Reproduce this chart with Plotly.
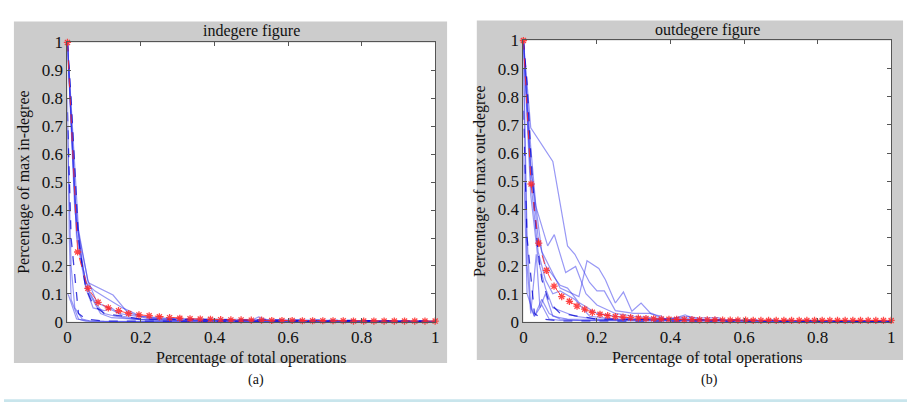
import plotly.graph_objects as go

# ---------------- data ----------------
x_ticks = [0, 0.2, 0.4, 0.6, 0.8, 1]
y_ticks = [0, 0.1, 0.2, 0.3, 0.4, 0.5, 0.6, 0.7, 0.8, 0.9, 1]

# in-degree mean curve (red stars)
in_mean_x = [i / 36 for i in range(37)]
in_mean_y = [1, 0.25, 0.12, 0.07, 0.05, 0.04, 0.03, 0.025, 0.022, 0.018, 0.015, 0.013,
             0.011, 0.01, 0.009, 0.008, 0.007, 0.007, 0.006, 0.006, 0.005, 0.005, 0.005,
             0.004, 0.004, 0.004, 0.004, 0.004, 0.003, 0.003, 0.003, 0.003, 0.003, 0.003,
             0.003, 0.003, 0.003]

# in-degree individual runs (blue)
in_runs_x = [
    [0, 0.025, 0.05, 0.075, 0.1, 0.15, 0.2, 0.3, 0.5, 0.52, 0.55, 0.7, 1],
    [0, 0.025, 0.057, 0.124, 0.164, 0.2, 0.25, 1],
    [0, 0.005, 0.01, 0.03, 0.05, 1],
    [0, 0.003, 0.025, 0.06, 0.1, 1],
    [0, 0.02, 0.05, 0.08, 0.1, 0.13, 0.18, 0.25, 1],
    [0, 0.025, 0.05, 0.07, 0.1, 0.12, 0.15, 0.2, 0.3, 1],
    [0, 0.02, 0.04, 0.06, 0.09, 0.12, 0.2, 0.4, 1],
    [0, 0.03, 0.055, 0.08, 0.11, 0.14, 0.19, 0.22, 0.3, 1],
    [0, 0.01, 0.02, 0.04, 0.06, 0.1, 0.2, 1],
]
in_runs_y = [
    [1, 0.32, 0.14, 0.11, 0.09, 0.05, 0.02, 0.01, 0.005, 0.018, 0.005, 0.003, 0.001],
    [1, 0.35, 0.14, 0.096, 0.033, 0.02, 0.012, 0.002],
    [0.8, 0.3, 0.08, 0.01, 0.002, 0.0],
    [0.1, 0.095, 0.01, 0.003, 0.002, 0.0],
    [1, 0.4, 0.13, 0.06, 0.03, 0.02, 0.01, 0.005, 0.001],
    [1, 0.3, 0.12, 0.05, 0.04, 0.05, 0.02, 0.01, 0.005, 0.002],
    [1, 0.45, 0.2, 0.1, 0.03, 0.015, 0.008, 0.004, 0.001],
    [1, 0.33, 0.15, 0.07, 0.05, 0.03, 0.02, 0.012, 0.006, 0.002],
    [0.7, 0.2, 0.05, 0.01, 0.004, 0.002, 0.001, 0.0],
]
in_dash_x = [
    [0, 0.01, 0.02, 0.03, 0.04, 0.05, 0.07, 0.1, 0.2, 1],
    [0, 0.01, 0.03, 0.05, 0.1, 0.3, 1],
]
in_dash_y = [
    [1, 0.8, 0.55, 0.3, 0.2, 0.12, 0.06, 0.03, 0.01, 0.003],
    [0.75, 0.3, 0.03, 0.01, 0.003, 0.002, 0.002],
]

# out-degree mean curve (red stars)
out_mean_x = [i / 48 for i in range(49)]
out_mean_y = [1, 0.49, 0.28, 0.183, 0.127, 0.09, 0.073, 0.056, 0.045, 0.034, 0.027, 0.022,
              0.019, 0.017, 0.015, 0.013, 0.012, 0.011, 0.01, 0.009, 0.009, 0.008, 0.008,
              0.007, 0.007, 0.007, 0.006, 0.006, 0.006, 0.006, 0.005, 0.005, 0.005, 0.005,
              0.005, 0.005, 0.005, 0.005, 0.005, 0.005, 0.005, 0.005, 0.005, 0.005, 0.005,
              0.005, 0.005, 0.005, 0.005]

# out-degree individual runs (blue)
out_runs_x = [
    [0, 0.02, 0.08, 0.12, 0.14, 0.18, 0.2, 0.22, 0.25, 0.3, 0.35, 0.38, 0.45, 0.5, 1],
    [0, 0.02, 0.034, 0.066, 0.084, 0.115, 0.142, 0.17, 0.2, 0.25, 0.3, 0.4, 0.6, 1],
    [0, 0.02, 0.05, 0.1, 0.151, 0.173, 0.205, 0.223, 0.25, 0.272, 0.295, 0.32, 0.348,
     0.375, 0.39, 0.44, 0.47, 1],
    [0, 0.01, 0.02, 0.035, 0.045, 0.06, 0.08, 0.12, 1],
    [0, 0.01, 0.02, 0.03, 0.05, 0.07, 0.1, 1],
    [0, 0.02, 0.04, 0.06, 0.1, 0.12, 0.15, 0.2, 0.3, 0.53, 0.55, 1],
    [0, 0.02, 0.04, 0.06, 0.08, 0.1, 0.14, 0.18, 0.25, 1],
    [0, 0.01, 0.03, 0.05, 0.07, 0.1, 0.15, 1],
    [0, 0.02, 0.04, 0.06, 0.08, 0.1, 0.14, 0.2, 1],
]
out_runs_y = [
    [1, 0.69, 0.57, 0.27, 0.24, 0.14, 0.11, 0.11, 0.04, 0.03, 0.03, 0.01, 0.02, 0.005, 0.003],
    [1, 0.62, 0.41, 0.27, 0.31, 0.175, 0.197, 0.1, 0.06, 0.03, 0.02, 0.01, 0.005, 0.002],
    [1, 0.55, 0.25, 0.12, 0.09, 0.217, 0.19, 0.15, 0.067, 0.106, 0.038, 0.067, 0.027,
     0.021, 0.005, 0.025, 0.005, 0.002],
    [0.9, 0.2, 0.03, 0.24, 0.05, 0.1, 0.02, 0.01, 0.0],
    [1, 0.3, 0.05, 0.02, 0.06, 0.01, 0.005, 0.0],
    [1, 0.55, 0.3, 0.2, 0.13, 0.12, 0.07, 0.03, 0.01, 0.015, 0.003, 0.002],
    [1, 0.5, 0.25, 0.15, 0.1, 0.11, 0.08, 0.02, 0.01, 0.0],
    [0.6, 0.1, 0.02, 0.08, 0.03, 0.01, 0.005, 0.0],
    [1, 0.45, 0.22, 0.12, 0.05, 0.04, 0.02, 0.01, 0.001],
]
out_dash_x = [
    [0, 0.01, 0.02, 0.03, 0.04, 0.05, 0.07, 0.1, 0.2, 1],
    [0, 0.01, 0.03, 0.05, 0.1, 0.3, 1],
]
out_dash_y = [
    [1, 0.85, 0.6, 0.4, 0.25, 0.15, 0.07, 0.03, 0.01, 0.003],
    [0.75, 0.3, 0.03, 0.01, 0.003, 0.002, 0.002],
]

# ---------------- figure ----------------
W, H = 911, 412
FONT = "Liberation Serif"
BLUE = "rgba(50,50,235,0.5)"
DARK = "rgba(0,0,210,0.75)"
RED = "rgba(255,40,40,0.85)"

fig = go.Figure()


def add_panel(runs_x, runs_y, dash_x, dash_y, mean_x, mean_y, xa, ya):
    for xs, ys in zip(runs_x, runs_y):
        fig.add_trace(go.Scatter(x=xs, y=ys, mode="lines", xaxis=xa, yaxis=ya,
                                 line=dict(color=BLUE, width=1.2), showlegend=False,
                                 hoverinfo="skip"))
    for xs, ys in zip(dash_x, dash_y):
        fig.add_trace(go.Scatter(x=xs, y=ys, mode="lines", xaxis=xa, yaxis=ya,
                                 line=dict(color=DARK, width=1.3, dash="dash"),
                                 showlegend=False, hoverinfo="skip"))
    fig.add_trace(go.Scatter(x=mean_x, y=mean_y, mode="lines+markers", xaxis=xa, yaxis=ya,
                             line=dict(color=RED, width=1, dash="dash"),
                             marker=dict(symbol="asterisk-open", size=6,
                                         line=dict(color=RED, width=1.3)),
                             cliponaxis=False, showlegend=False))


add_panel(in_runs_x, in_runs_y, in_dash_x, in_dash_y, in_mean_x, in_mean_y, "x", "y")
add_panel(out_runs_x, out_runs_y, out_dash_x, out_dash_y, out_mean_x, out_mean_y, "x2", "y2")


def px_x(p):
    return p / W


def px_y(p):
    return 1 - p / H


axis_common = dict(range=[0, 1], showgrid=False, zeroline=False, showline=True,
                   linecolor="#555555", linewidth=1, mirror="ticks", ticks="inside",
                   ticklen=4, tickcolor="#555555",
                   tickfont=dict(family=FONT, size=17, color="#111111"),
                   title_font=dict(family=FONT, size=16, color="#111111"))


def rect(x0, x1, y0, y1, color):
    return dict(type="rect", xref="paper", yref="paper", layer="below",
                x0=px_x(x0), x1=px_x(x1), y0=px_y(y1), y1=px_y(y0),
                fillcolor=color, line=dict(width=0))


def label(text, x, y, size):
    return dict(text=text, xref="paper", yref="paper", x=px_x(x), y=px_y(y),
                xanchor="center", yanchor="middle", showarrow=False,
                font=dict(family=FONT, size=size, color="#111111"))


fig.update_layout(
    width=W, height=H, margin=dict(l=0, r=0, t=0, b=0),
    paper_bgcolor="white", plot_bgcolor="white",
    xaxis=dict(domain=[px_x(64), px_x(435)], anchor="y", tickvals=x_ticks,
               title=dict(text="Percentage of total operations", standoff=5), **axis_common),
    yaxis=dict(domain=[px_y(328), px_y(35)], anchor="x", tickvals=y_ticks,
               title=dict(text="Percentage of max in-degree", standoff=8), **axis_common),
    xaxis2=dict(domain=[px_x(524), px_x(895)], anchor="y2", tickvals=x_ticks,
                title=dict(text="Percentage of total operations", standoff=5), **axis_common),
    yaxis2=dict(domain=[px_y(328), px_y(33)], anchor="x2", tickvals=y_ticks,
                title=dict(text="Percentage of max out-degree", standoff=8), **axis_common),
    shapes=[
        rect(10, 447, 13, 371, "#cccccc"),
        rect(477, 907, 12, 368, "#cccccc"),
        rect(64, 435, 35, 328, "#ffffff"),
        rect(524, 895, 33, 328, "#ffffff"),
        rect(0, 911, 409, 412, "#c8e5ec"),
    ],
    annotations=[
        label("indegere figure", 249.5, 23, 16),
        label("outdegere figure", 709.5, 22, 16),
        label("(a)", 254, 389, 14),
        label("(b)", 712, 389, 14),
    ],
)

fig.write_html("out.html")
